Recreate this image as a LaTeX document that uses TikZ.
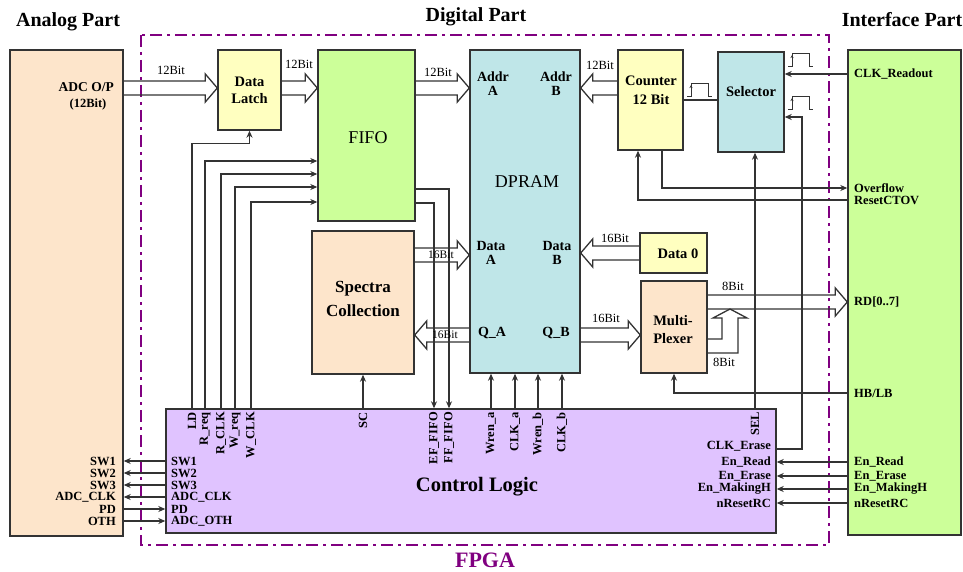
\documentclass[tikz,border=0pt]{standalone}
\usepackage{fontspec}
\setmainfont{Liberation Serif}
\usetikzlibrary{arrows.meta,calc}
\definecolor{PeachFill}{HTML}{FDE5CB}
\definecolor{LatchYellow}{HTML}{FFFFC0}
\definecolor{FifoGreen}{HTML}{CCFF99}
\definecolor{RamCyan}{HTML}{BFE6E8}
\definecolor{CtrlLilac}{HTML}{E0C3FF}
\definecolor{FpgaPurple}{HTML}{800080}
\definecolor{LineGray}{HTML}{333333}

% hollow bus arrow between two points on one row
\newcommand{\busarrow}[2]{%
  \draw[busline] let \p1=(#1), \p2=(#2), \p3=($(#2)!12pt!(#1)$) in
    (\x1,\y1+7) -- (\x3,\y1+7) -- (\x3,\y1+14) -- (\x2,\y2)
    -- (\x3,\y1-14) -- (\x3,\y1-7) -- (\x1,\y1-7);}
% small clock pulse, #1 = lower left start
\newcommand{\clkpulse}[1]{%
  \draw[pulse] (#1) -- ++(4,0) -- ++(0,-13) -- ++(17,0) -- ++(0,13) -- ++(4,0);
  \draw[pulse,-{Stealth[length=3pt,width=3pt]}] ($(#1)+(4,0)$) -- ++(0,-12);}

\begin{document}
\begin{tikzpicture}[x=1pt,y=-1pt,
    box/.style={draw=LineGray, line width=1.4pt, fill=#1, inner sep=0pt},
    sig/.style={draw=LineGray, line width=1.3pt, -{Stealth[length=7pt,width=6pt]}},
    wire/.style={draw=LineGray, line width=1.3pt},
    busline/.style={draw=LineGray, line width=1.3pt},
    pulse/.style={draw=LineGray, line width=1pt},
    sigtxt/.style={font=\bfseries\fontsize{12.5}{13}\selectfont, inner sep=0pt},
    vtxt/.style={sigtxt, rotate=90, anchor=east},
    porttxt/.style={font=\bfseries\fontsize{14}{14}\selectfont, align=center, inner sep=0pt},
    bits/.style={font=\fontsize{12.5}{13}\selectfont, inner sep=0pt},
    blk/.style={font=\bfseries\fontsize{14.5}{17}\selectfont, align=center, inner sep=0pt},
    part/.style={font=\bfseries\fontsize{20}{22}\selectfont, inner sep=0pt},
    fpga/.style={draw=FpgaPurple, line width=2pt, dash pattern=on 12pt off 5pt on 3pt off 5pt}
  ]
  \useasboundingbox (0,0) rectangle (963,572);

  % titles
  \node[part] (tanalog) at (68,22) {Analog Part};
  \node[part] (tdigital) at (476,17) {Digital Part};
  \node[part] (tiface) at (902,20) {Interface Part};
  \node[part, font=\bfseries\fontsize{22}{24}\selectfont, text=FpgaPurple] (tfpga) at (485,560) {FPGA};

  \draw[fpga] (141,35) rectangle (829,545);

  % blocks
  \node[box=PeachFill,   minimum width=113, minimum height=486] (analog)   at (66.5,293)  {};
  \node[box=LatchYellow, minimum width=63,  minimum height=80]  (latch)    at (249.5,90)  {};
  \node[box=FifoGreen,   minimum width=97,  minimum height=171] (fifo)     at (366.5,135.5) {};
  \node[box=RamCyan,     minimum width=110, minimum height=323] (dpram)    at (525,211.5) {};
  \node[box=LatchYellow, minimum width=65,  minimum height=100] (counter)  at (650.5,100) {};
  \node[box=RamCyan,     minimum width=66,  minimum height=100] (selector) at (751,102)   {};
  \node[box=FifoGreen,   minimum width=113, minimum height=485] (iface)    at (904.5,292.5) {};
  \node[box=PeachFill,   minimum width=102, minimum height=143] (spectra)  at (363,302.5) {};
  \node[box=LatchYellow, minimum width=67,  minimum height=40]  (data0)    at (673.5,253) {};
  \node[box=PeachFill,   minimum width=66,  minimum height=92]  (mux)      at (674,327)   {};
  \node[box=CtrlLilac,   minimum width=610, minimum height=124] (ctrl)     at (471,471)   {};

  % block texts
  \node[blk] (latchtxt) at (249.5,90) {Data\\Latch};
  \node[font=\fontsize{18}{19}\selectfont] (fifotxt) at (368,138) {FIFO};
  \node[blk, font=\bfseries\fontsize{14.5}{19}\selectfont] (countertxt) at (651,90) {Counter\\12 Bit};
  \node[blk] (seltxt) at (751,92) {Selector};
  \node[font=\fontsize{18}{19}\selectfont] (dpramtxt) at (527,182) {DPRAM};
  \node[blk, font=\bfseries\fontsize{17}{24}\selectfont] (spectxt) at (363,299) {Spectra\\Collection};
  \node[blk] (data0txt) at (678,254) {Data 0};
  \node[blk, font=\bfseries\fontsize{14.5}{18}\selectfont] (muxtxt) at (673,330) {Multi-\\Plexer};
  \node[font=\bfseries\fontsize{20.5}{22}\selectfont] (ctrltxt) at (477,487) {Control Logic};

  \node[porttxt] (addra) at (493,84)  {Addr\\A};
  \node[porttxt] (addrb) at (556,84)  {Addr\\B};
  \node[porttxt] (dataa) at (491,253) {Data\\A};
  \node[porttxt] (datab) at (557,253) {Data\\B};
  \node[porttxt] (qa)    at (492,333) {Q\_A};
  \node[porttxt] (qb)    at (556,333) {Q\_B};

  % analog side texts
  \node[sigtxt, anchor=east, font=\bfseries\fontsize{13.5}{14}\selectfont] (adcop) at (114,87) {ADC O/P};
  \node[sigtxt] (adcbits) at (88,104) {(12Bit)};
  \foreach \t/\y [count=\i] in {SW1/461, SW2/473, SW3/485, ADC\_CLK/497, PD/509, OTH/521}
    \node[sigtxt, anchor=east] (a\i) at (116,\y) {\t};
  \foreach \t/\y [count=\i] in {SW1/461, SW2/473, SW3/485, ADC\_CLK/497, PD/509, ADC\_OTH/521}
    \node[sigtxt, anchor=west] (c\i) at (171,\y) {\t};
  \foreach \i in {1,...,4}
    \draw[sig] (ctrl.west |- c\i) -- (analog.east |- c\i);
  \foreach \i in {5,6}
    \draw[sig] (analog.east |- c\i) -- (ctrl.west |- c\i);

  % control logic pins on top
  \foreach \n/\x/\t in {ld/192/LD, rreq/205/R\_req, rclk/221/R\_CLK, wreq/235/W\_req,
      wclk/251/W\_CLK, sc/363/SC, ef/434/EF\_FIFO, ff/449/FF\_FIFO, wa/491/Wren\_a,
      ca/515/CLK\_a, wb/538/Wren\_b, cb/562/CLK\_b, sel/755/SEL}
    \node[vtxt] (\n) at (\x,412) {\t};

  \draw[sig] (ld.east |- ctrl.north) |- ($(latch.south)+(0,13)$) -- (latch.south);
  \draw[sig] (rreq.east |- ctrl.north) |- (fifo.west |- 0,161);
  \draw[sig] (rclk.east |- ctrl.north) |- (fifo.west |- 0,174);
  \draw[sig] (wreq.east |- ctrl.north) |- (fifo.west |- 0,187);
  \draw[sig] (wclk.east |- ctrl.north) |- (fifo.west |- 0,202);
  \draw[sig] (sc.east |- ctrl.north) -- (sc.east |- spectra.south);
  \draw[sig] (fifo.east |- 0,189) -| (ff.east |- ctrl.north);
  \draw[sig] (fifo.east |- 0,203) -| (ef.east |- ctrl.north);
  \foreach \n in {wa,ca,wb,cb}
    \draw[sig] (\n.east |- ctrl.north) -- (\n.east |- dpram.south);
  \draw[sig] (sel.east |- ctrl.north) -- (sel.east |- selector.south);

  % interface side texts
  \node[sigtxt, anchor=west] (clkro)   at (854,74)  {CLK\_Readout};
  \node[sigtxt, anchor=west] (ovf)     at (854,188) {Overflow};
  \node[sigtxt, anchor=west] (rstctov) at (854,200) {ResetCTOV};
  \node[sigtxt, anchor=west] (rd)      at (854,302) {RD[0..7]};
  \node[sigtxt, anchor=west] (hblb)    at (854,393) {HB/LB};
  \foreach \n/\t/\y in {enr/En\_Read/462, ene/En\_Erase/476, enm/En\_MakingH/489, nrst/nResetRC/503} {
    \node[sigtxt, anchor=west] (i\n) at (854,\y) {\t};
    \node[sigtxt, anchor=east] (c\n) at (771,\y) {\t};
    \draw[sig] (iface.west |- 0,\y) -- (ctrl.east |- 0,\y);
  }
  \node[sigtxt, anchor=east] (clkerase) at (771,446) {CLK\_Erase};

  \draw[sig] (ctrl.east |- 0,449) -| (802,117) -- (selector.east |- 0,117);
  \draw[sig] (iface.west |- clkro) -- (selector.east |- clkro);
  \draw[sig] (counter.south -| 662,0) |- (iface.west |- ovf);
  \draw[sig] (iface.west |- rstctov) -| (counter.south -| 638,0);
  \draw[sig] (iface.west |- hblb) -| (mux.south);
  \draw[wire] (counter.east |- 0,100) -- (selector.west |- 0,100);

  \clkpulse{788,67}
  \clkpulse{788,110}
  \clkpulse{687,97}

  % buses
  \busarrow{analog.east |- 0,88}{latch.west |- 0,88}
  \busarrow{latch.east |- 0,88}{fifo.west |- 0,88}
  \busarrow{fifo.east |- 0,88}{dpram.west |- 0,88}
  \busarrow{counter.west |- 0,88}{dpram.east |- 0,88}
  \busarrow{spectra.east |- 0,255}{dpram.west |- 0,255}
  \busarrow{dpram.west |- 0,335}{spectra.east |- 0,335}
  \busarrow{data0.west}{dpram.east |- data0}
  \busarrow{dpram.east |- 0,335}{mux.west |- 0,335}
  \busarrow{mux.east |- 0,302}{iface.west |- 0,302}
  \draw[busline] (mux.east |- 0,339) -| (722,318) -- (713,318) -- (730,309)
    -- (747,318) -- (738,318) |- (mux.east |- 0,353);

  \node[bits] (b1) at (171,70) {12Bit};
  \node[bits] (b2) at (299,64) {12Bit};
  \node[bits] (b3) at (438,72) {12Bit};
  \node[bits] (b4) at (600,65) {12Bit};
  \node[bits, font=\fontsize{11.5}{12}\selectfont] (b5) at (441,255) {16Bit};
  \node[bits, font=\fontsize{11.5}{12}\selectfont] (b6) at (445,335) {16Bit};
  \node[bits] (b7) at (615,238) {16Bit};
  \node[bits] (b8) at (606,318) {16Bit};
  \node[bits] (b9) at (733,286) {8Bit};
  \node[bits] (b10) at (724,362) {8Bit};

\end{tikzpicture}
\end{document}
